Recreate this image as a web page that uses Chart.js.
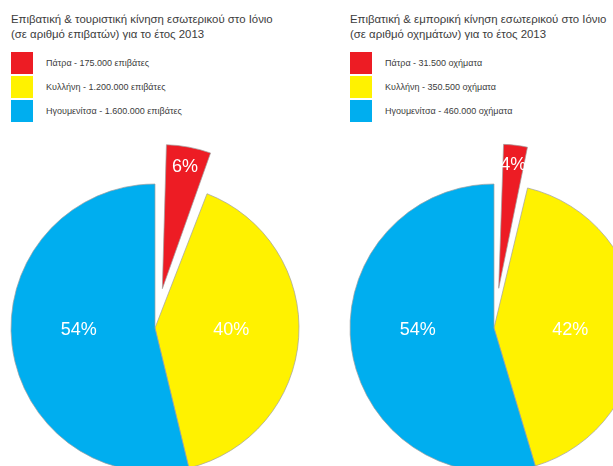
<!DOCTYPE html>
<html lang="el">
<head>
<meta charset="utf-8">
<title>Κίνηση εσωτερικού στο Ιόνιο 2013</title>
<script src="https://cdn.jsdelivr.net/npm/chart.js@4.4.1/dist/chart.umd.min.js"></script>
<style>
  html, body { margin: 0; padding: 0; background: #fff; }
  body { width: 613px; height: 466px; overflow: hidden; position: relative;
         font-family: "Liberation Sans", Arial, sans-serif; }
  .title { position: absolute; top: 12px; font-size: 11.4px; line-height: 15px; color: #3c3c3c; }
  .legend { position: absolute; top: 51px; }
  .legend .item { display: flex; align-items: center; height: 24px; }
  .legend .box { width: 22px; height: 22px; margin-right: 13px; }
  .legend .txt { font-size: 9px; color: #3c3c3c; }
  .pie { position: absolute; width: 400px; height: 400px; }
</style>
</head>
<body>
<div class="title" id="title-left" style="left:11px"></div>
<div class="legend" id="legend-left" style="left:11px"></div>
<div class="title" id="title-right" style="left:350px"></div>
<div class="legend" id="legend-right" style="left:350px"></div>
<div class="pie" style="left:-45px; top:128px"><canvas id="pie-left"></canvas></div>
<div class="pie" style="left:294px; top:128px"><canvas id="pie-right"></canvas></div>

<script>
// Δεδομένα
const categories = ['Πάτρα', 'Κυλλήνη', 'Ηγουμενίτσα'];
const colors = ['#ED1C24', '#FFF200', '#00AEEF'];

const passengers = [175000, 1200000, 1600000];
const passengerPct = ['6%', '40%', '54%'];
const passengerTitle = ['Επιβατική & τουριστική κίνηση εσωτερικού στο Ιόνιο', '(σε αριθμό επιβατών) για το έτος 2013'];

const vehicles = [31500, 350500, 460000];
const vehiclePct = ['4%', '42%', '54%'];
const vehicleTitle = ['Επιβατική & εμπορική κίνηση εσωτερικού στο Ιόνιο', '(σε αριθμό οχημάτων) για το έτος 2013'];

// 175000 -> 175.000
const fmt = n => String(n).replace(/\B(?=(\d{3})+(?!\d))/g, '.');

function buildHeader(side, title, values, unit) {
  document.getElementById('title-' + side).innerHTML = title.join('<br>');
  document.getElementById('legend-' + side).innerHTML = categories.map((c, i) =>
    `<div class="item"><div class="box" style="background:${colors[i]}"></div>` +
    `<span class="txt">${c} - ${fmt(values[i])} ${unit}</span></div>`).join('');
}

// Chart.js arc offset'i çizerken /4 uyguluyor ve dilimi de büyütüyor;
// ayrılan dilimin yarıçapını diğerleriyle aynı tutmak için düzeltme
const keepRadius = {
  id: 'keepRadius',
  afterDatasetUpdate(chart) {
    chart.getDatasetMeta(0).data.forEach(arc => {
      const off = (arc.options.offset || 0) / 4;
      if (!off) return;
      const fix = 1 - Math.sin(Math.min(Math.PI, arc.circumference || 0));
      arc.outerRadius -= off * fix;
    });
  }
};

// yüzde etiketleri: ayrılan dilimde orta açı boyunca, diğerlerinde yatay
const pctLabels = {
  id: 'pctLabels',
  afterDatasetsDraw(chart, args, opts) {
    const ctx = chart.ctx;
    const meta = chart.getDatasetMeta(0);
    const r = meta.controller.outerRadius;
    ctx.save();
    ctx.fillStyle = '#fff';
    ctx.font = '18px "Liberation Sans", Arial, sans-serif';
    ctx.textAlign = 'center';
    ctx.textBaseline = 'middle';
    meta.data.forEach((arc, i) => {
      const mid = (arc.startAngle + arc.endAngle) / 2;
      const off = (arc.options.offset || 0) / 4;
      const d = off + opts.radii[i] * r;
      if (off) {
        ctx.fillText(opts.texts[i], arc.x + Math.cos(mid) * d, arc.y + Math.sin(mid) * d);
      } else {
        ctx.fillText(opts.texts[i], arc.x + Math.sign(Math.cos(mid)) * d, arc.y + 2);
      }
    });
    ctx.restore();
  }
};

function makePie(id, values, texts) {
  return new Chart(document.getElementById(id), {
    type: 'pie',
    data: {
      labels: categories,
      datasets: [{
        data: values,
        backgroundColor: colors,
        borderColor: 'rgba(160,160,160,0.7)',
        borderWidth: 1,
        offset: [160, 0, 0]
      }]
    },
    options: {
      responsive: false,
      animation: false,
      events: [],
      radius: 144,
      plugins: {
        legend: { display: false },
        tooltip: { enabled: false },
        pctLabels: { texts: texts, radii: [0.86, 0.53, 0.53] }
      }
    },
    plugins: [keepRadius, pctLabels]
  });
}

document.getElementById('pie-left').width = 400;
document.getElementById('pie-left').height = 400;
document.getElementById('pie-right').width = 400;
document.getElementById('pie-right').height = 400;

buildHeader('left', passengerTitle, passengers, 'επιβάτες');
buildHeader('right', vehicleTitle, vehicles, 'οχήματα');
makePie('pie-left', passengers, passengerPct);
makePie('pie-right', vehicles, vehiclePct);
</script>
</body>
</html>
